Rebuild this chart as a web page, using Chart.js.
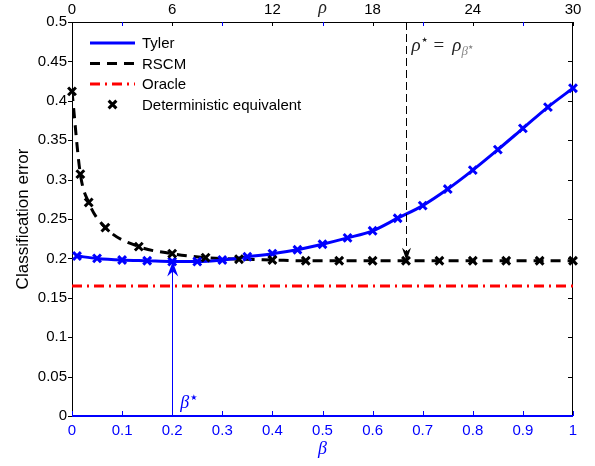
<!DOCTYPE html>
<html>
<head>
<meta charset="utf-8">
<script src="https://cdn.jsdelivr.net/npm/chart.js@4.4.0/dist/chart.umd.min.js"></script>
<style>
  html, body { margin: 0; padding: 0; background: #fff; }
  #wrap { width: 595px; height: 466px; }
</style>
</head>
<body>
<div id="wrap"><canvas id="errChart" width="595" height="466"></canvas></div>
<script>
// Tyler estimator, plotted against beta (bottom axis)
const betaVals = [0.01, 0.05, 0.10, 0.15, 0.20, 0.25, 0.30, 0.35, 0.40, 0.45, 0.50,
                  0.55, 0.60, 0.65, 0.70, 0.75, 0.80, 0.85, 0.90, 0.95, 1.00];
const tylerErr = [0.203, 0.200, 0.198, 0.197, 0.196, 0.196, 0.198, 0.202, 0.206, 0.211, 0.218,
                  0.226, 0.235, 0.251, 0.267, 0.288, 0.312, 0.338, 0.365, 0.392, 0.416];

// RSCM estimator, plotted against rho (top axis)
const rhoVals = [0, 0.5, 1, 2, 4, 6, 8, 10, 12, 14, 16, 18, 20, 22, 24, 26, 28, 30];
const rscmErr = [0.412, 0.307, 0.271, 0.239, 0.215, 0.206, 0.201, 0.199, 0.198, 0.197,
                 0.197, 0.197, 0.197, 0.197, 0.197, 0.197, 0.197, 0.197];

const oracleErr = 0.165;
const betaStar = 0.2;
const rhoStar = 20;

const FONT = '"Liberation Sans", Arial, sans-serif';
const SERIF = '"Liberation Serif", "DejaVu Serif", serif';
const STAR = '"DejaVu Sans", sans-serif';
const BLUE = '#0000ff';

Chart.defaults.font.family = FONT;
Chart.defaults.font.size = 15;
Chart.defaults.color = '#000';

function trimNum(v) {
    return String(+v.toFixed(2));
}

function pts(xs, ys) {
    return xs.map((x, i) => ({ x: x, y: ys[i] }));
}

function cross(ctx, x, y) {
    Chart.helpers.drawPoint(ctx, { pointStyle: 'crossRot', radius: 5.5, borderWidth: 3 }, x, y);
}

// axes lines and tick marks (matlab look)
const framePlugin = {
    id: 'frame',
    beforeDatasetsDraw(chart) {
        const { ctx, chartArea: a, scales } = chart;
        ctx.save();
        ctx.lineWidth = 1;
        ctx.strokeStyle = '#000';
        ctx.beginPath();
        ctx.moveTo(a.left + 0.5, a.bottom);
        ctx.lineTo(a.left + 0.5, a.top + 0.5);
        ctx.lineTo(a.right - 0.5, a.top + 0.5);
        ctx.lineTo(a.right - 0.5, a.bottom);
        ctx.stroke();

        // y ticks: left outside, right inside
        scales.y.ticks.forEach(t => {
            const py = Math.round(scales.y.getPixelForValue(t.value)) + 0.5;
            ctx.beginPath();
            ctx.moveTo(a.left - 4, py); ctx.lineTo(a.left, py);
            ctx.moveTo(a.right - 5, py); ctx.lineTo(a.right, py);
            ctx.stroke();
        });

        // top rho ticks
        scales.x2.ticks.forEach(t => {
            const px = Math.round(scales.x2.getPixelForValue(t.value)) + 0.5;
            ctx.strokeStyle = t.value % 6 === 0 ? '#000' : BLUE;
            ctx.beginPath();
            ctx.moveTo(px, a.top); ctx.lineTo(px, a.top + 4);
            ctx.stroke();
        });

        // bottom beta ticks
        ctx.strokeStyle = BLUE;
        scales.x.ticks.forEach(t => {
            const px = Math.round(scales.x.getPixelForValue(t.value)) + 0.5;
            ctx.beginPath();
            ctx.moveTo(px, a.bottom); ctx.lineTo(px, a.bottom - 5);
            ctx.stroke();
        });
        ctx.lineWidth = 2;
        ctx.beginPath();
        ctx.moveTo(a.left, a.bottom); ctx.lineTo(a.right, a.bottom);
        ctx.stroke();
        ctx.restore();
    }
};

// arrows, labels, legend, axis titles
const notePlugin = {
    id: 'notes',
    afterDatasetsDraw(chart) {
        const { ctx, chartArea: a, scales } = chart;
        ctx.save();

        // beta* arrow
        const xb = scales.x.getPixelForValue(betaStar);
        const yb = scales.y.getPixelForValue(tylerErr[betaVals.indexOf(betaStar)]);
        ctx.strokeStyle = BLUE;
        ctx.fillStyle = BLUE;
        ctx.lineWidth = 1;
        ctx.beginPath();
        ctx.moveTo(Math.round(xb) + 0.5, a.bottom);
        ctx.lineTo(Math.round(xb) + 0.5, yb + 8);
        ctx.stroke();
        ctx.beginPath();
        ctx.moveTo(xb + 0.5, yb);
        ctx.lineTo(xb - 5, yb + 15);
        ctx.lineTo(xb + 0.5, yb + 10);
        ctx.lineTo(xb + 6, yb + 15);
        ctx.closePath();
        ctx.fill();

        ctx.font = 'italic 18px ' + SERIF;
        ctx.textBaseline = 'alphabetic';
        ctx.fillText('\u03b2', xb + 8, a.bottom - 8);
        ctx.font = '8px ' + STAR;
        ctx.fillText('\u2605', xb + 18, a.bottom - 16);

        // rho* arrow
        const xr = Math.round(scales.x2.getPixelForValue(rhoStar)) + 0.5;
        const yr = scales.y.getPixelForValue(rscmErr[rhoVals.indexOf(rhoStar)]);
        ctx.strokeStyle = '#000';
        ctx.fillStyle = '#000';
        ctx.setLineDash([8, 4]);
        ctx.beginPath();
        ctx.moveTo(xr, a.top);
        ctx.lineTo(xr, yr - 6);
        ctx.stroke();
        ctx.setLineDash([]);
        ctx.beginPath();
        ctx.moveTo(xr, yr);
        ctx.lineTo(xr - 4.5, yr - 13);
        ctx.lineTo(xr, yr - 9);
        ctx.lineTo(xr + 4.5, yr - 13);
        ctx.closePath();
        ctx.fill();

        // rho* = rho_beta* label
        let tx = xr + 5;
        const base = a.top + 29;
        ctx.fillStyle = '#222';
        ctx.font = 'italic 19px ' + SERIF;
        ctx.fillText('\u03c1', tx, base);
        tx += ctx.measureText('\u03c1').width + 1;
        ctx.font = '7px ' + STAR;
        ctx.fillText('\u2605', tx, base - 9);
        tx += 12;
        ctx.font = '19px ' + SERIF;
        ctx.fillText('=', tx, base);
        tx += ctx.measureText('=').width + 8;
        ctx.font = 'italic 19px ' + SERIF;
        ctx.fillText('\u03c1', tx, base);
        tx += ctx.measureText('\u03c1').width;
        ctx.fillStyle = '#888';
        ctx.font = 'italic 13px ' + SERIF;
        ctx.fillText('\u03b2', tx, base + 4);
        tx += ctx.measureText('\u03b2').width;
        ctx.font = '6px ' + STAR;
        ctx.fillText('\u2605', tx, base - 2);

        // legend
        const lx0 = a.left + 18, lx1 = a.left + 63, ltx = a.left + 70;
        let ly = a.top + 21;
        ctx.font = '15px ' + FONT;
        ctx.textBaseline = 'middle';
        chart.data.datasets.forEach(ds => {
            if (!ds.label) return;
            ctx.save();
            ctx.strokeStyle = ds.borderColor;
            ctx.fillStyle = ds.borderColor;
            if (ds.showLine === false) {
                ctx.lineWidth = 3;
                cross(ctx, (lx0 + lx1) / 2, ly);
            } else {
                ctx.lineWidth = ds.borderWidth;
                ctx.setLineDash(ds.borderDash || []);
                ctx.beginPath();
                ctx.moveTo(lx0, ly);
                ctx.lineTo(lx1, ly);
                ctx.stroke();
            }
            ctx.restore();
            ctx.fillStyle = '#000';
            ctx.fillText(ds.label, ltx, ly + 1);
            ly += 20.5;
        });
        ctx.restore();
    },
    afterDraw(chart) {
        const { ctx, chartArea: a, scales } = chart;
        ctx.save();
        ctx.textAlign = 'center';
        ctx.textBaseline = 'alphabetic';
        // top axis title at rho = 15
        ctx.fillStyle = '#222';
        ctx.font = 'italic 18px ' + SERIF;
        ctx.fillText('\u03c1', scales.x2.getPixelForValue(15), 13);
        // bottom axis title
        ctx.fillStyle = BLUE;
        ctx.fillText('\u03b2', (a.left + a.right) / 2, 454);
        // y title
        ctx.fillStyle = '#000';
        ctx.font = '17px ' + FONT;
        ctx.translate(23, (a.top + a.bottom) / 2);
        ctx.rotate(-Math.PI / 2);
        ctx.textBaseline = 'middle';
        ctx.fillText('Classification error', 0, 0);
        ctx.restore();
    }
};

const ctx = document.getElementById('errChart').getContext('2d');
const chart = new Chart(ctx, {
    type: 'line',
    data: {
        datasets: [
            {
                label: 'Tyler',
                data: pts(betaVals, tylerErr),
                xAxisID: 'x',
                borderColor: BLUE,
                borderWidth: 3,
                pointRadius: 0,
                cubicInterpolationMode: 'monotone',
                order: 2
            },
            {
                label: 'RSCM',
                data: pts(rhoVals, rscmErr),
                xAxisID: 'x2',
                borderColor: '#000',
                borderWidth: 3,
                borderDash: [10, 7],
                pointRadius: 0,
                cubicInterpolationMode: 'monotone',
                order: 2
            },
            {
                label: 'Oracle',
                data: pts([0, 1], [oracleErr, oracleErr]),
                xAxisID: 'x',
                borderColor: '#ff0000',
                borderWidth: 3,
                borderDash: [10, 5, 2, 5],
                pointRadius: 0,
                order: 3
            },
            {
                label: 'Deterministic equivalent',
                data: pts(rhoVals, rscmErr),
                xAxisID: 'x2',
                showLine: false,
                borderColor: '#000',
                backgroundColor: '#000',
                pointStyle: 'crossRot',
                pointRadius: 5.5,
                pointBorderWidth: 3,
                clip: false,
                order: 1
            },
            {
                label: '',
                data: pts(betaVals, tylerErr),
                xAxisID: 'x',
                showLine: false,
                borderColor: BLUE,
                backgroundColor: BLUE,
                pointStyle: 'crossRot',
                pointRadius: 5.5,
                pointBorderWidth: 3,
                clip: false,
                order: 1
            }
        ]
    },
    options: {
        responsive: false,
        animation: false,
        layout: { padding: { left: 0, right: 22, top: 0, bottom: 0 } },
        plugins: {
            legend: { display: false },
            tooltip: { enabled: false }
        },
        scales: {
            x: {
                type: 'linear',
                position: 'bottom',
                min: 0,
                max: 1,
                grid: { display: false, drawTicks: false },
                border: { display: false },
                ticks: {
                    stepSize: 0.1,
                    color: BLUE,
                    padding: 6,
                    maxRotation: 0,
                    autoSkip: false,
                    callback: v => trimNum(v)
                },
                afterFit: s => { s.height = 50; }
            },
            x2: {
                type: 'linear',
                position: 'top',
                min: 0,
                max: 30,
                grid: { display: false, drawTicks: false },
                border: { display: false },
                ticks: {
                    stepSize: 3,
                    padding: 3,
                    maxRotation: 0,
                    autoSkip: false,
                    callback: v => (v % 6 === 0 ? String(v) : '')
                },
                afterFit: s => { s.height = 22; }
            },
            y: {
                type: 'linear',
                position: 'left',
                min: 0,
                max: 0.5,
                grid: { display: false, drawTicks: false },
                border: { display: false },
                ticks: {
                    stepSize: 0.05,
                    padding: 5,
                    autoSkip: false,
                    callback: v => trimNum(v)
                },
                afterFit: s => { s.width = 72; }
            }
        }
    },
    plugins: [framePlugin, notePlugin]
});
</script>
</body>
</html>
